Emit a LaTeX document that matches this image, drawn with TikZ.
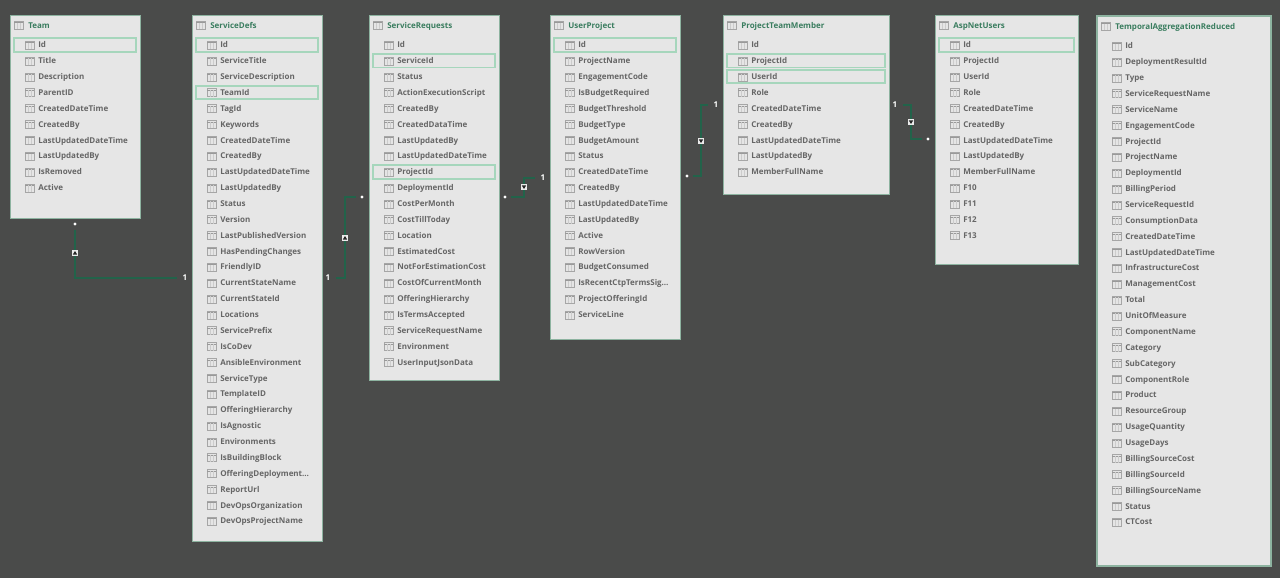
\documentclass[tikz,border=0pt]{standalone}
\usepackage{fontspec}
\setmainfont{Open Sans}
\usepackage{xcolor}
\definecolor{canvas}{HTML}{4A4B4A}
\definecolor{tablefill}{HTML}{E6E6E6}
\definecolor{tableedge}{HTML}{8DB3A0}
\definecolor{keyedge}{HTML}{A6D6BC}
\definecolor{titletext}{HTML}{3A7D5F}
\definecolor{fieldtext}{HTML}{666666}
\definecolor{relcolor}{HTML}{22634A}
\tikzset{
	tablebox/.style={draw=tableedge, fill=tablefill, line width=.75pt, anchor=north west, inner sep=0pt, outer sep=0pt},
	keybox/.style={draw=keyedge, line width=1.4pt, inner sep=0pt, outer sep=0pt, minimum height=10pt},
	tabletitle/.style={anchor=west, inner sep=0pt, text height=5.2pt, text depth=1pt, text=titletext, font=\bfseries\fontsize{6}{7}\selectfont},
	fieldname/.style={anchor=west, inner sep=0pt, text height=5.2pt, text depth=1pt, text=fieldtext, font=\bfseries\fontsize{6}{7}\selectfont},
	relline/.style={draw=relcolor, line width=.85pt},
	oneend/.style={inner sep=0pt, outer sep=4pt, text=white, font=\bfseries\fontsize{6}{7}\selectfont},
	manyend/.style={circle, fill=white, inner sep=0pt, minimum size=2.4pt, outer sep=3pt},
	dirbox/.style={fill=white!92!black, inner sep=0pt, minimum size=4.6pt},
	dirup/.style={dirbox, path picture={\fill[black!85] (path picture bounding box.center) ++(-2.2,1.6) -- ++(4.4,0) -- ++(-2.2,-3.6) -- cycle;}},
	dirdown/.style={dirbox, path picture={\fill[black!85] (path picture bounding box.center) ++(-2.2,-1.6) -- ++(4.4,0) -- ++(-2.2,3.6) -- cycle;}},
	fieldicon/.pic={
		\draw[black!35, line width=.3pt, fill=white!90!black] (-4.5,-4) rectangle (4.5,4);
		\draw[black!40, line width=.5pt] (-4.5,-2.5) -- (4.5,-2.5);
		\draw[black!20, line width=.25pt] (-1.5,-2.5) -- (-1.5,4) (1.5,-2.5) -- (1.5,4);
	},
}
% name, left, width, height, title, key rows, rows
\newcommand{\dbtable}[7]{
	\node (#1) at (#2,15) [tablebox, minimum width=#3*.75pt, minimum height=#4*.75pt] {};
	\pic at ({#2+8.5},25) {fieldicon};
	\node (#1-title) at ({#2+18},25.6) [tabletitle] {#5};
	\foreach \k in {#6}
		\node (#1-key\k) at ({#2+#3/2},{45+(\k-1)*15.87}) [keybox, minimum width={(#3-8)*.75pt}] {};
	\foreach \field [count=\i] in {#7} {
		\pic at ({#2+19.5},{45+(\i-1)*15.87}) {fieldicon};
		\node (#1-\i) at ({#2+28},{45+(\i-1)*15.87}) [fieldname] {\field};
	}
}

\begin{document}
\begin{tikzpicture}[x=.75pt, y=-.75pt] %%%{{{
	 \fill[canvas] (0,0) rectangle (1280,578);
	 \useasboundingbox (0,0) rectangle (1280,578);

	 \dbtable{team}{10}{130}{203}{Team}{1}{Id,Title,Description,ParentID,CreatedDateTime,CreatedBy,LastUpdatedDateTime,LastUpdatedBy,IsRemoved,Active}
	 \dbtable{servicedefs}{192}{130}{526}{ServiceDefs}{1,4}{Id,ServiceTitle,ServiceDescription,TeamId,TagId,Keywords,CreatedDateTime,CreatedBy,LastUpdatedDateTime,LastUpdatedBy,Status,Version,LastPublishedVersion,HasPendingChanges,FriendlyID,CurrentStateName,CurrentStateId,Locations,ServicePrefix,IsCoDev,AnsibleEnvironment,ServiceType,TemplateID,OfferingHierarchy,IsAgnostic,Environments,IsBuildingBlock,OfferingDeployment…,ReportUrl,DevOpsOrganization,DevOpsProjectName}
	 \dbtable{requests}{369}{130}{365}{ServiceRequests}{2,9}{Id,ServiceId,Status,ActionExecutionScript,CreatedBy,CreatedDataTime,LastUpdatedBy,LastUpdatedDateTime,ProjectId,DeploymentId,CostPerMonth,CostTillToday,Location,EstimatedCost,NotForEstimationCost,CostOfCurrentMonth,OfferingHierarchy,IsTermsAccepted,ServiceRequestName,Environment,UserInputJsonData}
	 \dbtable{userproject}{550}{130}{324}{UserProject}{1}{Id,ProjectName,EngagementCode,IsBudgetRequired,BudgetThreshold,BudgetType,BudgetAmount,Status,CreatedDateTime,CreatedBy,LastUpdatedDateTime,LastUpdatedBy,Active,RowVersion,BudgetConsumed,IsRecentCtpTermsSig…,ProjectOfferingId,ServiceLine}
	 \dbtable{teammember}{723}{166}{179}{ProjectTeamMember}{2,3}{Id,ProjectId,UserId,Role,CreatedDateTime,CreatedBy,LastUpdatedDateTime,LastUpdatedBy,MemberFullName}
	 \dbtable{aspnetusers}{935}{143}{249}{AspNetUsers}{1}{Id,ProjectId,UserId,Role,CreatedDateTime,CreatedBy,LastUpdatedDateTime,LastUpdatedBy,MemberFullName,F10,F11,F12,F13}
	 \begin{scope}[shift={(1,1)}]
	 \dbtable{temporal}{1096}{174}{550}{TemporalAggregationReduced}{}{Id,DeploymentResultId,Type,ServiceRequestName,ServiceName,EngagementCode,ProjectId,ProjectName,DeploymentId,BillingPeriod,ServiceRequestId,ConsumptionData,CreatedDateTime,LastUpdatedDateTime,InfrastructureCost,ManagementCost,Total,UnitOfMeasure,ComponentName,Category,SubCategory,ComponentRole,Product,ResourceGroup,UsageQuantity,UsageDays,BillingSourceCost,BillingSourceId,BillingSourceName,Status,CTCost}
	 \end{scope}
	 \draw[tableedge, line width=1.5pt] (temporal.north west) rectangle (temporal.south east);

	 \node (manyA) at (75,224) [manyend] {};
	 \node (oneA) at (185,278) [oneend] {1};
	 \coordinate (bendA) at (75,278);
	 \draw[relline] (manyA) -- (bendA) -- (oneA);
	 \node (dirA) at (75,253) [dirup] {};

	 \node (oneB) at (328,278) [oneend] {1};
	 \node (manyB) at (362,197) [manyend] {};
	 \coordinate (bendB) at (345,278);
	 \coordinate (bendBB) at (345,197);
	 \draw[relline] (oneB) -- (bendB) -- (bendBB) -- (manyB);
	 \node (dirB) at (345,238) [dirup] {};

	 \node (manyC) at (505,197) [manyend] {};
	 \node (oneC) at (543,178) [oneend] {1};
	 \coordinate (bendC) at (524,197);
	 \coordinate (bendCC) at (524,178);
	 \draw[relline] (manyC) -- (bendC) -- (bendCC) -- (oneC);
	 \node (dirC) at (524,187) [dirdown] {};

	 \node (manyD) at (687,176) [manyend] {};
	 \node (oneD) at (716,105) [oneend] {1};
	 \coordinate (bendD) at (701,176);
	 \coordinate (bendDD) at (701,105);
	 \draw[relline] (manyD) -- (bendD) -- (bendDD) -- (oneD);
	 \node (dirD) at (701,141) [dirdown] {};

	 \node (oneE) at (895,105) [oneend] {1};
	 \node (manyE) at (928,139) [manyend] {};
	 \coordinate (bendE) at (911,105);
	 \coordinate (bendEE) at (911,139);
	 \draw[relline] (oneE) -- (bendE) -- (bendEE) -- (manyE);
	 \node (dirE) at (911,122) [dirdown] {};
      \end{tikzpicture}
\end{document}
